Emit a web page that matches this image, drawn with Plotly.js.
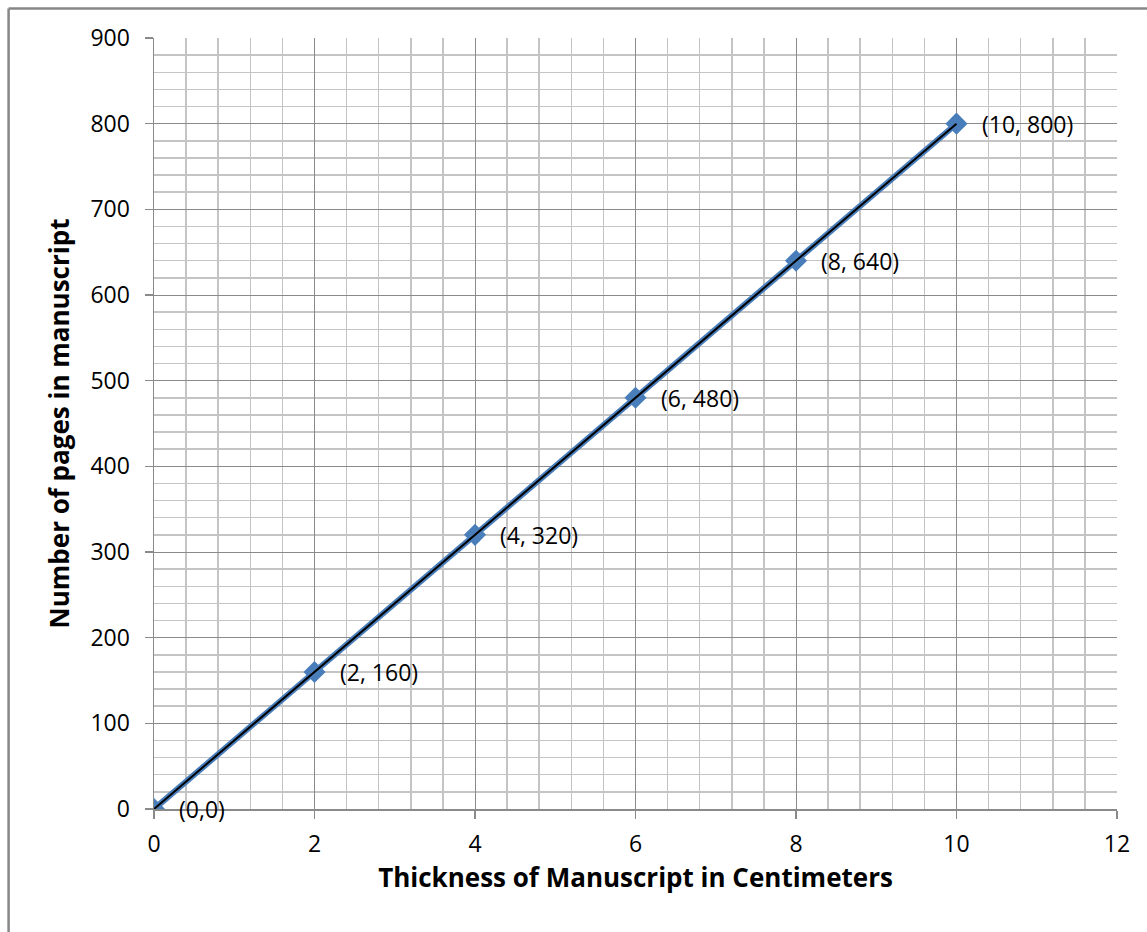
<!DOCTYPE html>
<html>
<head>
<meta charset="utf-8">
<script src="https://cdn.plot.ly/plotly-3.0.1.min.js"></script>
<style>
html,body{margin:0;padding:0;background:#fff;}
#chart{width:1147px;height:932px;}
</style>
</head>
<body>
<div id="chart"></div>
<script>
var thickness = [0, 2, 4, 6, 8, 10];
var pages = [0, 160, 320, 480, 640, 800];
var pointLabels = ["(0,0)", "(2, 160)", "(4, 320)", "(6, 480)", "(8, 640)", "(10, 800)"];
var xTitle = "Thickness of Manuscript in Centimeters";
var yTitle = "Number of pages in manuscript";

var FONT = "Open Sans, Noto Sans, sans-serif";

var series = {
  x: thickness, y: pages, type: "scatter", mode: "lines+markers",
  line: {color: "#4a7ebb", width: 6},
  marker: {symbol: "diamond", size: 17, color: "#4a7ebb"},
  hoverinfo: "x+y", showlegend: false
};
var trend = {
  x: [thickness[0], thickness[thickness.length-1]],
  y: [pages[0], pages[pages.length-1]],
  type: "scatter", mode: "lines",
  line: {color: "#000000", width: 2},
  hoverinfo: "skip", showlegend: false
};

var annotations = thickness.map(function(t, i){
  return {x: t, y: pages[i], xref: "x", yref: "y", text: pointLabels[i],
    showarrow: false, xanchor: "left", yanchor: "middle", xshift: 23,
    font: {family: FONT, size: 23, color: "#000"}};
});

var layout = {
  width: 1147, height: 932,
  margin: {l: 154, r: 30, t: 38, b: 123},
  paper_bgcolor: "#fff", plot_bgcolor: "#fff",
  font: {family: FONT, size: 23, color: "#000"},
  xaxis: {
    range: [0, 12], dtick: 2, tick0: 0,
    showgrid: true, gridcolor: "#8a8a8a", gridwidth: 1,
    minor: {dtick: 0.4, showgrid: true, gridcolor: "#c4c4c4", gridwidth: 1.5, ticks: ""},
    showline: true, linecolor: "#8a8a8a", linewidth: 1.5,
    ticks: "outside", ticklen: 8, tickcolor: "#8a8a8a", tickwidth: 1.5,
    ticklabelstandoff: 6,
    tickfont: {family: FONT, size: 23},
    zeroline: false,
    title: {text: xTitle, font: {family: FONT, size: 26, weight: "bold"}, standoff: 9}
  },
  yaxis: {
    range: [0, 900], dtick: 100, tick0: 0,
    showgrid: true, gridcolor: "#8a8a8a", gridwidth: 1,
    minor: {dtick: 20, showgrid: true, gridcolor: "#c4c4c4", gridwidth: 1.5, ticks: ""},
    showline: true, linecolor: "#8a8a8a", linewidth: 1.5,
    ticks: "outside", ticklen: 8, tickcolor: "#8a8a8a", tickwidth: 1.5,
    ticklabelstandoff: 10,
    tickfont: {family: FONT, size: 23},
    zeroline: false,
    title: {text: yTitle, font: {family: FONT, size: 26, weight: "bold"}, standoff: 13}
  },
  annotations: annotations,
  shapes: [
    {type: "line", xref: "paper", yref: "paper", x0: -0.151, x1: 1.2, y0: 1.0383, y1: 1.0383,
     line: {color: "#878787", width: 2.5}},
    {type: "line", xref: "paper", yref: "paper", x0: -0.151, x1: -0.151, y0: 1.0383, y1: -0.3,
     line: {color: "#878787", width: 2.5}}
  ]
};

Plotly.newPlot("chart", [series, trend], layout, {displayModeBar: false, staticPlot: true});
</script>
</body>
</html>
